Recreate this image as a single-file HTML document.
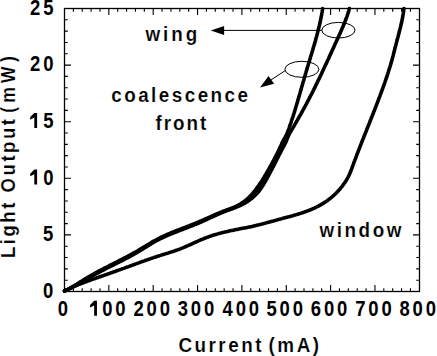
<!DOCTYPE html>
<html><head><meta charset="utf-8"><style>
html,body{margin:0;padding:0;background:#fff;width:437px;height:356px;overflow:hidden}
svg{display:block}
text{font-family:"Liberation Sans",sans-serif;font-weight:bold;font-size:20.5px;fill:#000;stroke:#fff;stroke-width:0.15px}
text.d{stroke:none}
</style></head><body>
<svg width="437" height="356" viewBox="0 0 437 356">
<rect x="0" y="0" width="437" height="356" fill="#fff"/>
<g fill="none" stroke="#000" stroke-linecap="round" stroke-linejoin="round">
<path d="M64.5 291.1L65.4 290.6L66.3 290.2L67.2 289.7L68.1 289.3L69.0 288.8L69.9 288.4L70.8 288.0L71.8 287.5L72.7 287.1L73.6 286.7L74.5 286.3L75.4 285.9L76.3 285.5L77.3 285.1L78.2 284.7L79.1 284.4L80.1 284.0L81.0 283.6L81.9 283.3L82.9 282.9L83.8 282.5L84.7 282.2L85.7 281.8L86.6 281.5L87.5 281.1L88.5 280.8L89.4 280.5L90.4 280.1L91.3 279.8L92.3 279.4L93.2 279.1L94.2 278.8L95.1 278.5L96.1 278.1L97.0 277.8L97.9 277.5L98.9 277.1L99.8 276.8L100.8 276.5L101.7 276.1L102.7 275.8L103.6 275.5L104.6 275.1L105.5 274.8L106.5 274.5L107.4 274.1L108.4 273.8L109.3 273.5L110.3 273.1L111.2 272.8L112.1 272.5L113.1 272.1L114.0 271.8L115.0 271.5L115.9 271.1L116.9 270.8L117.8 270.4L118.8 270.1L119.7 269.8L120.6 269.4L121.6 269.1L122.5 268.7L123.5 268.4L124.4 268.1L125.4 267.7L126.3 267.4L127.2 267.0L128.2 266.7L129.1 266.4L130.1 266.0L131.0 265.7L132.0 265.3L132.9 265.0L133.8 264.6L134.8 264.3L135.7 263.9L136.7 263.6L137.6 263.3L138.6 262.9L139.5 262.6L140.4 262.2L141.4 261.9L142.3 261.5L143.3 261.2L144.2 260.9L145.2 260.5L146.1 260.2L147.1 259.9L148.0 259.5L149.0 259.2L149.9 258.9L150.8 258.6L151.8 258.2L152.7 257.9L153.7 257.6L154.6 257.3L155.6 257.0L156.6 256.6L157.5 256.3L158.5 256.0L159.4 255.7L160.4 255.4L161.3 255.1L162.3 254.8L163.2 254.5L164.2 254.2L165.2 253.9L166.1 253.6L167.1 253.4L168.0 253.1L169.0 252.7L169.9 252.4L170.9 252.1L171.9 251.8L172.8 251.5L173.8 251.2L174.7 250.9L175.7 250.5L176.6 250.2L177.5 249.9L178.5 249.5L179.4 249.2L180.4 248.8L181.3 248.4L182.2 248.1L183.2 247.7L184.1 247.3L185.0 246.9L185.9 246.5L186.8 246.1L187.8 245.7L188.7 245.3L189.6 244.9L190.5 244.5L191.4 244.1L192.4 243.6L193.3 243.2L194.2 242.8L195.1 242.4L196.0 242.0L196.9 241.6L197.9 241.2L198.8 240.7L199.7 240.3L200.6 239.9L201.5 239.5L202.5 239.2L203.4 238.8L204.3 238.4L205.3 238.0L206.2 237.7L207.1 237.3L208.1 237.0L209.0 236.6L210.0 236.3L210.9 236.0L211.8 235.6L212.8 235.3L213.7 235.0L214.7 234.7L215.7 234.5L216.6 234.2L217.6 233.9L218.5 233.6L219.5 233.4L220.5 233.1L221.4 232.9L222.4 232.6L223.4 232.4L224.4 232.1L225.3 231.9L226.3 231.7L227.3 231.5L228.3 231.2L229.3 231.0L230.2 230.8L231.2 230.6L232.2 230.4L233.2 230.2L234.2 230.0L235.2 229.8L236.1 229.6L237.1 229.4L238.1 229.2L239.1 229.0L240.1 228.8L241.1 228.6L242.1 228.4L243.0 228.3L244.0 228.1L245.0 227.9L246.0 227.7L247.0 227.5L248.0 227.3L249.0 227.1L249.9 226.9L250.9 226.7L251.9 226.5L252.9 226.2L253.9 226.0L254.8 225.8L255.8 225.6L256.8 225.3L257.8 225.1L258.7 224.9L259.7 224.6L260.7 224.4L261.6 224.1L262.6 223.9L263.6 223.6L264.5 223.4L265.5 223.1L266.5 222.8L267.4 222.6L268.4 222.3L269.4 222.0L270.3 221.8L271.3 221.5L272.3 221.2L273.2 221.0L274.2 220.7L275.2 220.4L276.1 220.2L277.1 219.9L278.1 219.6L279.0 219.4L280.0 219.1L281.0 218.9L282.0 218.6L282.9 218.3L283.9 218.1L284.9 217.8L285.9 217.6L286.8 217.3L287.8 217.0L288.8 216.8L289.8 216.5L290.7 216.2L291.7 216.0L292.7 215.7L293.6 215.4L294.6 215.1L295.6 214.9L296.5 214.6L297.5 214.3L298.5 214.0L299.4 213.7L300.4 213.4L301.3 213.1L302.3 212.8L303.2 212.5L304.2 212.1L305.1 211.8L306.1 211.5L307.0 211.1L307.9 210.8L308.9 210.4L309.8 210.0L310.7 209.7L311.6 209.3L312.5 208.9L313.4 208.5L314.4 208.1L315.3 207.7L316.1 207.2L317.0 206.8L317.9 206.3L318.8 205.9L319.7 205.4L320.6 204.9L321.4 204.4L322.3 203.9L323.1 203.4L324.0 202.9L324.8 202.3L325.6 201.8L326.5 201.2L327.3 200.6L328.1 200.0L328.9 199.4L329.7 198.8L330.5 198.2L331.3 197.5L332.1 196.9L332.8 196.2L333.6 195.5L334.3 194.8L335.1 194.1L335.8 193.4L336.5 192.7L337.2 192.0L337.9 191.2L338.6 190.5L339.3 189.7L340.0 189.0L340.6 188.2L341.2 187.4L341.9 186.6L342.5 185.8L343.1 185.0L343.7 184.2L344.3 183.4L344.8 182.6L345.4 181.8L345.9 181.0L346.4 180.1L346.9 179.3L347.4 178.4L347.9 177.5L348.3 176.7L348.8 175.8L349.2 174.9L349.6 174.0L350.0 173.0L350.4 172.1L350.7 171.2L351.1 170.3L351.5 169.3L351.8 168.4L352.2 167.5L352.5 166.5L352.8 165.6L353.2 164.6L353.5 163.7L353.9 162.7L354.2 161.8L354.6 160.8L354.9 159.9L355.3 159.0L355.7 158.0L356.0 157.1L356.4 156.1L356.7 155.2L357.1 154.3L357.4 153.3L357.8 152.4L358.2 151.5L358.5 150.5L358.9 149.6L359.3 148.6L359.6 147.7L360.0 146.8L360.3 145.8L360.7 144.9L361.1 144.0L361.4 143.0L361.8 142.1L362.2 141.2L362.5 140.2L362.9 139.3L363.3 138.4L363.7 137.4L364.0 136.5L364.4 135.6L364.8 134.6L365.1 133.7L365.5 132.8L365.9 131.8L366.3 130.9L366.6 130.0L367.0 129.0L367.4 128.1L367.7 127.2L368.1 126.2L368.5 125.3L368.9 124.4L369.2 123.4L369.6 122.5L370.0 121.6L370.3 120.6L370.7 119.7L371.1 118.8L371.4 117.8L371.8 116.9L372.2 116.0L372.6 115.0L372.9 114.1L373.3 113.2L373.7 112.2L374.0 111.3L374.4 110.4L374.7 109.4L375.1 108.5L375.5 107.6L375.8 106.6L376.2 105.7L376.6 104.8L376.9 103.8L377.3 102.9L377.6 101.9L378.0 101.0L378.4 100.1L378.7 99.1L379.1 98.2L379.4 97.3L379.8 96.3L380.1 95.4L380.5 94.4L380.8 93.5L381.2 92.6L381.5 91.6L381.9 90.7L382.2 89.7L382.5 88.8L382.9 87.9L383.2 86.9L383.6 86.0L383.9 85.0L384.2 84.1L384.6 83.1L384.9 82.2L385.2 81.2L385.6 80.3L385.9 79.4L386.2 78.4L386.5 77.5L386.9 76.5L387.2 75.6L387.5 74.6L387.8 73.7L388.1 72.7L388.4 71.8L388.7 70.8L389.0 69.8L389.3 68.9L389.6 67.9L389.9 67.0L390.2 66.0L390.5 65.1L390.8 64.1L391.1 63.1L391.3 62.2L391.6 61.2L391.9 60.2L392.2 59.3L392.4 58.3L392.7 57.3L392.9 56.4L393.2 55.4L393.4 54.4L393.7 53.5L393.9 52.5L394.2 51.5L394.4 50.5L394.7 49.6L394.9 48.6L395.2 47.6L395.4 46.6L395.7 45.7L395.9 44.7L396.2 43.7L396.4 42.8L396.7 41.8L396.9 40.8L397.2 39.8L397.4 38.9L397.7 37.9L398.0 36.9L398.2 36.0L398.5 35.0L398.7 34.0L399.0 33.1L399.2 32.1L399.5 31.1L399.7 30.1L400.0 29.2L400.2 28.2L400.5 27.2L400.7 26.3L400.9 25.3L401.1 24.3L401.4 23.3L401.6 22.4L401.8 21.4L402.0 20.4L402.2 19.4L402.4 18.4L402.6 17.4L402.8 16.5L402.9 15.5L403.1 14.5L403.3 13.5L403.4 12.5L403.6 11.5L403.7 10.5L403.8 9.5L403.9 8.5" stroke-width="3.6"/>
<path d="M64.5 291.0L65.4 290.6L66.3 290.1L67.2 289.7L68.1 289.2L69.0 288.7L69.9 288.2L70.7 287.7L71.6 287.2L72.5 286.7L73.3 286.2L74.2 285.7L75.1 285.2L75.9 284.7L76.8 284.2L77.6 283.6L78.5 283.1L79.3 282.6L80.2 282.0L81.0 281.5L81.9 281.0L82.7 280.4L83.6 279.9L84.4 279.4L85.3 278.8L86.1 278.3L87.0 277.8L87.8 277.3L88.7 276.8L89.6 276.2L90.4 275.7L91.3 275.2L92.2 274.7L93.0 274.3L93.9 273.8L94.8 273.3L95.7 272.8L96.6 272.3L97.4 271.9L98.3 271.4L99.2 270.9L100.1 270.4L101.0 270.0L101.9 269.5L102.8 269.1L103.7 268.6L104.5 268.1L105.4 267.7L106.3 267.2L107.2 266.8L108.1 266.3L109.0 265.9L109.9 265.4L110.8 264.9L111.7 264.5L112.6 264.0L113.5 263.6L114.4 263.1L115.3 262.7L116.2 262.2L117.1 261.8L118.0 261.3L118.8 260.9L119.7 260.4L120.6 260.0L121.5 259.5L122.4 259.1L123.3 258.6L124.2 258.1L125.1 257.7L126.0 257.2L126.9 256.7L127.7 256.3L128.6 255.8L129.5 255.3L130.4 254.9L131.3 254.4L132.2 253.9L133.0 253.4L133.9 252.9L134.8 252.4L135.6 252.0L136.5 251.5L137.4 251.0L138.2 250.5L139.1 249.9L140.0 249.4L140.8 248.9L141.7 248.4L142.5 247.9L143.4 247.4L144.2 246.8L145.1 246.3L146.0 245.8L146.8 245.2L147.7 244.7L148.5 244.2L149.4 243.7L150.2 243.2L151.1 242.7L152.0 242.1L152.8 241.6L153.7 241.1L154.6 240.7L155.5 240.2L156.4 239.7L157.3 239.2L158.1 238.8L159.0 238.3L159.9 237.9L160.8 237.4L161.7 237.0L162.6 236.6L163.6 236.1L164.5 235.7L165.4 235.3L166.3 234.9L167.2 234.5L168.1 234.1L169.1 233.7L170.0 233.3L170.9 232.9L171.8 232.5L172.8 232.1L173.7 231.8L174.6 231.4L175.6 231.0L176.5 230.6L177.4 230.3L178.4 229.9L179.3 229.5L180.2 229.2L181.2 228.8L182.1 228.4L183.1 228.1L184.0 227.7L184.9 227.4L185.9 227.0L186.8 226.6L187.7 226.3L188.7 225.9L189.6 225.6L190.5 225.2L191.5 224.8L192.4 224.5L193.3 224.1L194.3 223.7L195.2 223.3L196.1 223.0L197.1 222.6L198.0 222.2L198.9 221.8L199.8 221.4L200.7 221.0L201.7 220.6L202.6 220.2L203.5 219.8L204.4 219.4L205.3 219.0L206.2 218.6L207.1 218.2L208.0 217.8L209.0 217.4L209.9 217.0L210.8 216.6L211.7 216.2L212.6 215.8L213.5 215.4L214.4 214.9L215.4 214.5L216.3 214.1L217.2 213.7L218.1 213.3L219.1 212.9L220.0 212.6L220.9 212.2L221.9 211.8L222.8 211.4L223.8 211.0L224.7 210.7L225.7 210.3L226.7 210.0L227.6 209.6L228.6 209.3L229.5 208.9L230.5 208.6L231.5 208.2L232.4 207.8L233.3 207.5L234.3 207.1L235.2 206.7L236.1 206.3L237.0 205.8L237.9 205.4L238.8 204.9L239.6 204.5L240.5 204.0L241.3 203.4L242.1 202.9L242.9 202.4L243.7 201.8L244.4 201.2L245.2 200.6L245.9 200.0L246.7 199.4L247.4 198.8L248.1 198.1L248.8 197.5L249.5 196.8L250.1 196.1L250.8 195.4L251.5 194.7L252.1 194.0L252.7 193.3L253.3 192.5L254.0 191.8L254.6 191.0L255.2 190.3L255.8 189.5L256.4 188.7L256.9 187.9L257.5 187.1L258.1 186.3L258.7 185.5L259.2 184.7L259.8 183.9L260.4 183.1L260.9 182.3L261.5 181.4L262.0 180.6L262.5 179.7L263.1 178.9L263.6 178.0L264.1 177.2L264.6 176.3L265.1 175.4L265.7 174.6L266.2 173.7L266.7 172.8L267.2 172.0L267.7 171.1L268.2 170.2L268.7 169.3L269.1 168.5L269.6 167.6L270.1 166.7L270.6 165.8L271.1 164.9L271.6 164.1L272.0 163.2L272.5 162.3L273.0 161.4L273.5 160.5L273.9 159.7L274.4 158.8L274.9 157.9L275.3 157.0L275.8 156.1L276.2 155.2L276.7 154.3L277.1 153.5L277.6 152.6L278.0 151.7L278.4 150.8L278.9 149.9L279.3 149.0L279.7 148.1L280.1 147.2L280.6 146.3L281.0 145.4L281.4 144.5L281.8 143.5L282.2 142.6L282.6 141.7L283.1 140.9L283.6 140.0L284.1 139.1L284.6 138.2L285.1 137.4L285.5 136.5L286.0 135.6L286.5 134.7L286.9 133.8L287.3 132.9L287.6 131.9L288.0 131.0L288.3 130.1L288.7 129.1L289.0 128.2L289.3 127.2L289.7 126.3L290.0 125.3L290.3 124.4L290.7 123.4L291.0 122.5L291.3 121.5L291.6 120.6L291.9 119.6L292.2 118.7L292.6 117.7L292.9 116.8L293.2 115.8L293.5 114.9L293.8 113.9L294.1 113.0L294.4 112.0L294.7 111.1L295.0 110.1L295.3 109.1L295.6 108.2L295.8 107.2L296.1 106.3L296.4 105.3L296.7 104.3L297.0 103.4L297.3 102.4L297.6 101.4L297.8 100.5L298.1 99.5L298.4 98.5L298.7 97.6L299.0 96.6L299.2 95.6L299.5 94.7L299.8 93.7L300.1 92.8L300.4 91.8L300.6 90.8L300.9 89.9L301.2 88.9L301.5 87.9L301.7 87.0L302.0 86.0L302.3 85.0L302.6 84.1L302.8 83.1L303.1 82.1L303.4 81.2L303.7 80.2L304.0 79.2L304.2 78.3L304.5 77.3L304.8 76.3L305.1 75.4L305.4 74.4L305.6 73.4L305.9 72.5L306.2 71.5L306.5 70.5L306.8 69.6L307.1 68.6L307.3 67.7L307.6 66.7L307.9 65.7L308.2 64.8L308.5 63.8L308.8 62.8L309.1 61.9L309.4 60.9L309.7 60.0L310.0 59.0L310.3 58.0L310.5 57.1L310.8 56.1L311.1 55.2L311.4 54.2L311.7 53.3L312.0 52.3L312.3 51.3L312.6 50.4L312.9 49.4L313.1 48.5L313.4 47.5L313.7 46.5L314.0 45.6L314.3 44.6L314.6 43.6L314.8 42.7L315.1 41.7L315.4 40.8L315.7 39.8L315.9 38.8L316.2 37.9L316.5 36.9L316.7 35.9L317.0 35.0L317.2 34.0L317.5 33.0L317.7 32.1L318.0 31.1L318.2 30.1L318.5 29.1L318.7 28.2L318.9 27.2L319.2 26.2L319.4 25.3L319.6 24.3L319.9 23.3L320.1 22.3L320.3 21.3L320.5 20.4L320.7 19.4L320.9 18.4L321.1 17.4L321.3 16.4L321.5 15.4L321.7 14.4L321.8 13.5L322.0 12.5L322.2 11.5L322.3 10.5L322.5 9.5L322.6 8.5" stroke-width="3.6"/>
<path d="M64.5 291.0L65.4 290.6L66.4 290.2L67.3 289.8L68.2 289.4L69.1 288.9L70.0 288.5L70.9 288.0L71.8 287.6L72.7 287.1L73.6 286.7L74.5 286.2L75.3 285.7L76.2 285.2L77.1 284.7L78.0 284.2L78.8 283.7L79.7 283.2L80.6 282.7L81.4 282.2L82.3 281.7L83.2 281.2L84.0 280.7L84.9 280.2L85.8 279.7L86.6 279.2L87.5 278.7L88.4 278.2L89.3 277.7L90.1 277.2L91.0 276.7L91.9 276.2L92.7 275.8L93.6 275.3L94.5 274.8L95.3 274.3L96.2 273.8L97.1 273.3L98.0 272.9L98.9 272.4L99.7 271.9L100.6 271.5L101.5 271.0L102.4 270.5L103.3 270.1L104.2 269.6L105.0 269.1L105.9 268.7L106.8 268.2L107.7 267.8L108.6 267.3L109.5 266.9L110.4 266.4L111.3 266.0L112.2 265.5L113.1 265.1L114.0 264.6L114.9 264.2L115.8 263.7L116.7 263.3L117.6 262.8L118.5 262.4L119.4 262.0L120.3 261.5L121.2 261.0L122.1 260.6L123.0 260.1L123.9 259.7L124.7 259.2L125.6 258.8L126.5 258.3L127.4 257.8L128.3 257.4L129.2 256.9L130.1 256.4L131.0 255.9L131.8 255.5L132.7 255.0L133.6 254.5L134.5 254.0L135.4 253.5L136.2 253.0L137.1 252.5L138.0 252.0L138.8 251.5L139.7 251.0L140.5 250.4L141.4 249.9L142.3 249.4L143.1 248.8L144.0 248.3L144.8 247.8L145.7 247.2L146.5 246.7L147.3 246.2L148.2 245.6L149.0 245.1L149.9 244.6L150.7 244.0L151.6 243.5L152.4 243.0L153.3 242.5L154.2 242.0L155.0 241.5L155.9 241.0L156.8 240.5L157.6 240.1L158.5 239.6L159.4 239.2L160.3 238.7L161.2 238.3L162.1 237.9L163.0 237.4L163.9 237.0L164.8 236.6L165.7 236.2L166.7 235.8L167.6 235.4L168.5 235.0L169.4 234.6L170.3 234.2L171.3 233.9L172.2 233.5L173.1 233.1L174.1 232.8L175.0 232.4L175.9 232.0L176.9 231.7L177.8 231.3L178.8 230.9L179.7 230.6L180.6 230.2L181.6 229.8L182.5 229.5L183.4 229.1L184.4 228.8L185.3 228.4L186.3 228.0L187.2 227.7L188.1 227.3L189.1 226.9L190.0 226.6L190.9 226.2L191.9 225.8L192.8 225.5L193.7 225.1L194.7 224.7L195.6 224.3L196.5 224.0L197.4 223.6L198.4 223.2L199.3 222.8L200.2 222.4L201.1 222.0L202.0 221.6L203.0 221.2L203.9 220.8L204.8 220.3L205.7 219.9L206.6 219.5L207.5 219.1L208.4 218.7L209.3 218.3L210.2 217.8L211.1 217.4L212.1 217.0L213.0 216.6L213.9 216.2L214.8 215.8L215.7 215.4L216.6 214.9L217.5 214.5L218.5 214.1L219.4 213.7L220.3 213.3L221.2 212.9L222.1 212.6L223.1 212.2L224.0 211.8L224.9 211.4L225.9 211.1L226.8 210.7L227.8 210.4L228.7 210.0L229.7 209.7L230.6 209.3L231.6 209.0L232.5 208.6L233.5 208.3L234.4 207.9L235.3 207.5L236.3 207.2L237.2 206.8L238.2 206.4L239.1 206.0L240.0 205.6L240.9 205.2L241.8 204.8L242.7 204.3L243.6 203.8L244.5 203.4L245.4 202.8L246.3 202.3L247.1 201.8L247.9 201.2L248.8 200.6L249.6 200.0L250.4 199.4L251.2 198.8L252.0 198.2L252.7 197.5L253.5 196.8L254.3 196.1L255.0 195.4L255.7 194.7L256.4 194.0L257.1 193.2L257.8 192.5L258.5 191.7L259.1 190.9L259.7 190.1L260.4 189.2L261.0 188.4L261.5 187.6L262.1 186.7L262.7 185.9L263.2 185.0L263.7 184.1L264.3 183.2L264.8 182.3L265.3 181.5L265.8 180.6L266.3 179.7L266.8 178.8L267.3 177.9L267.8 177.0L268.3 176.1L268.7 175.2L269.2 174.3L269.7 173.4L270.2 172.5L270.6 171.6L271.1 170.7L271.6 169.8L272.1 168.9L272.5 168.0L273.0 167.1L273.5 166.3L273.9 165.4L274.4 164.5L274.8 163.6L275.3 162.7L275.7 161.8L276.2 160.9L276.6 160.0L277.1 159.1L277.5 158.2L278.0 157.3L278.4 156.4L278.9 155.5L279.3 154.6L279.8 153.8L280.3 152.9L280.7 152.0L281.2 151.1L281.6 150.2L282.1 149.3L282.5 148.4L283.0 147.6L283.5 146.7L283.9 145.8L284.4 144.9L284.9 144.0L285.3 143.2L285.8 142.3L286.2 141.3L286.6 140.4L286.9 139.5L287.3 138.6L287.7 137.6L288.1 136.7L288.5 135.8L288.9 134.9L289.3 133.9L289.8 133.1L290.3 132.2L290.8 131.3L291.3 130.5L291.8 129.6L292.4 128.7L292.9 127.9L293.4 127.0L293.9 126.2L294.4 125.3L294.9 124.4L295.4 123.6L295.9 122.7L296.4 121.8L296.9 121.0L297.4 120.1L297.9 119.2L298.4 118.3L298.9 117.5L299.4 116.6L299.9 115.7L300.4 114.9L300.9 114.0L301.4 113.1L301.9 112.2L302.3 111.4L302.8 110.5L303.3 109.6L303.8 108.7L304.3 107.8L304.8 107.0L305.2 106.1L305.7 105.2L306.2 104.3L306.6 103.4L307.1 102.5L307.6 101.7L308.0 100.8L308.5 99.9L309.0 99.0L309.4 98.1L309.9 97.2L310.3 96.3L310.8 95.4L311.3 94.5L311.7 93.7L312.2 92.8L312.6 91.9L313.1 91.0L313.5 90.1L314.0 89.2L314.4 88.3L314.9 87.4L315.3 86.5L315.7 85.6L316.2 84.7L316.6 83.8L317.1 82.9L317.5 82.0L317.9 81.1L318.4 80.2L318.8 79.3L319.2 78.4L319.7 77.5L320.1 76.6L320.5 75.7L321.0 74.8L321.4 73.9L321.8 73.0L322.2 72.0L322.7 71.1L323.1 70.2L323.5 69.3L323.9 68.4L324.4 67.5L324.8 66.6L325.2 65.7L325.6 64.8L326.1 63.9L326.5 63.0L326.9 62.1L327.3 61.2L327.7 60.2L328.2 59.3L328.6 58.4L329.0 57.5L329.4 56.6L329.8 55.7L330.2 54.8L330.7 53.9L331.1 53.0L331.5 52.1L331.9 51.1L332.3 50.2L332.7 49.3L333.2 48.4L333.6 47.5L334.0 46.6L334.4 45.7L334.8 44.8L335.2 43.8L335.6 42.9L336.1 42.0L336.5 41.1L336.9 40.2L337.3 39.3L337.7 38.4L338.1 37.5L338.6 36.5L339.0 35.6L339.4 34.7L339.8 33.8L340.2 32.9L340.6 32.0L341.0 31.1L341.4 30.1L341.8 29.2L342.2 28.3L342.6 27.4L343.0 26.5L343.4 25.5L343.8 24.6L344.2 23.7L344.5 22.8L344.9 21.8L345.3 20.9L345.6 20.0L346.0 19.0L346.3 18.1L346.7 17.1L347.0 16.2L347.3 15.2L347.7 14.3L348.0 13.3L348.3 12.4L348.6 11.4L348.9 10.4L349.1 9.5L349.4 8.5" stroke-width="3.6"/>
<path d="M64.5 291.1L65.4 290.6L66.3 290.1L67.2 289.7L68.1 289.2L69.0 288.7L69.9 288.2L70.7 287.7L71.6 287.2L72.5 286.7L73.4 286.3L74.3 285.8L75.1 285.3L76.0 284.8L76.9 284.3L77.8 283.8L78.6 283.3L79.5 282.8L80.4 282.3L81.3 281.8L82.1 281.3L83.0 280.8L83.9 280.3L84.7 279.8L85.6 279.3L86.5 278.8L87.4 278.3L88.2 277.8L89.1 277.3L90.0 276.8L90.9 276.3L91.7 275.8L92.6 275.4L93.5 274.9L94.4 274.4L95.2 273.9L96.1 273.4L97.0 272.9L97.9 272.4L98.7 271.9L99.6 271.5L100.5 271.0L101.4 270.5L102.3 270.0L103.1 269.5L104.0 269.1L104.9 268.6L105.8 268.1L106.7 267.7L107.6 267.2L108.5 266.7L109.4 266.3L110.2 265.8L111.1 265.3L112.0 264.9L112.9 264.4L113.8 263.9L114.7 263.5L115.6 263.0L116.5 262.5L117.4 262.1L118.3 261.6L119.2 261.1L120.0 260.7L120.9 260.2L121.8 259.8L122.7 259.3L123.6 258.8L124.5 258.4L125.4 257.9L126.3 257.4L127.2 257.0L128.1 256.5L128.9 256.0L129.8 255.5L130.7 255.1L131.6 254.6L132.5 254.1L133.4 253.6L134.3 253.2L135.1 252.7L136.0 252.2L136.9 251.7L137.8 251.2L138.7 250.7L139.5 250.2L140.4 249.8L141.3 249.3L142.2 248.8L143.0 248.3L143.9 247.8L144.8 247.3L145.6 246.8L146.5 246.2L147.4 245.7L148.2 245.2L149.1 244.7L150.0 244.2L150.9 243.7L151.7 243.2L152.6 242.7L153.5 242.2L154.3 241.7L155.2 241.3L156.1 240.8L157.0 240.3L157.8 239.8L158.7 239.3L159.6 238.8L160.5 238.4L161.4 237.9L162.3 237.4L163.2 237.0L164.1 236.5L164.9 236.1L165.8 235.6L166.8 235.2L167.7 234.8L168.6 234.3L169.5 233.9L170.4 233.5L171.3 233.1L172.2 232.7L173.2 232.3L174.1 231.9L175.0 231.6L176.0 231.2L176.9 230.8L177.8 230.5L178.8 230.1L179.7 229.7L180.7 229.4L181.6 229.0L182.5 228.7L183.5 228.3L184.4 228.0L185.4 227.6L186.3 227.3L187.3 226.9L188.2 226.6L189.2 226.3L190.1 225.9L191.1 225.5L192.0 225.2L193.0 224.8L193.9 224.5L194.8 224.1L195.8 223.8L196.7 223.4L197.6 223.0L198.6 222.6L199.5 222.2L200.4 221.8L201.4 221.4L202.3 221.0L203.2 220.6L204.1 220.2L205.0 219.8L205.9 219.4L206.8 219.0L207.7 218.5L208.7 218.1L209.6 217.7L210.5 217.3L211.4 216.9L212.3 216.4L213.2 216.0L214.1 215.6L215.0 215.2L216.0 214.8L216.9 214.4L217.8 214.0L218.7 213.6L219.7 213.2L220.6 212.8L221.5 212.4L222.5 212.1L223.4 211.7L224.4 211.3L225.3 211.0L226.2 210.6L227.2 210.2L228.1 209.9L229.1 209.5L230.0 209.1L230.9 208.7L231.9 208.3L232.8 208.0L233.7 207.6L234.7 207.2L235.6 206.8L236.5 206.4L237.4 205.9L238.3 205.5L239.2 205.1L240.1 204.6L241.0 204.2L241.9 203.7L242.8 203.2L243.6 202.7L244.5 202.2L245.3 201.7L246.1 201.1L246.9 200.6L247.7 200.0L248.5 199.4L249.3 198.8L250.0 198.1L250.8 197.5L251.5 196.8L252.2 196.1L253.0 195.5L253.7 194.7L254.3 194.0L255.0 193.3L255.7 192.5L256.3 191.8L257.0 191.0L257.6 190.2L258.2 189.4L258.8 188.6L259.4 187.8L260.0 187.0L260.5 186.2L261.1 185.3L261.7 184.5L262.2 183.6L262.8 182.8L263.3 181.9L263.8 181.0L264.3 180.2L264.8 179.3L265.3 178.4L265.8 177.5L266.3 176.6L266.8 175.7L267.3 174.8L267.8 173.9L268.2 173.0L268.7 172.1L269.2 171.2L269.7 170.3L270.1 169.4L270.6 168.5L271.0 167.6L271.5 166.7L272.0 165.8L272.4 164.9L272.9 164.0L273.3 163.1L273.8 162.2L274.2 161.3L274.7 160.4L275.2 159.6L275.6 158.7L276.1 157.8L276.5 156.9L277.0 156.0L277.4 155.1L277.9 154.2L278.4 153.3L278.8 152.5L279.3 151.6L279.7 150.7L280.2 149.8L280.7 148.9L281.1 148.0L281.6 147.1L282.1 146.3L282.6 145.4L283.0 144.5L283.5 143.6L284.0 142.7L284.5 141.8L284.9 140.9L285.4 140.0" stroke-width="3.4"/>
</g>
<path d="M73.37 291.5V288.20M73.37 8.5V11.80M82.24 291.5V288.20M82.24 8.5V11.80M91.11 291.5V288.20M91.11 8.5V11.80M99.98 291.5V288.20M99.98 8.5V11.80M108.85 291.5V285.00M108.85 8.5V15.00M117.72 291.5V288.20M117.72 8.5V11.80M126.59 291.5V288.20M126.59 8.5V11.80M135.46 291.5V288.20M135.46 8.5V11.80M144.33 291.5V288.20M144.33 8.5V11.80M153.20 291.5V285.00M153.20 8.5V15.00M162.07 291.5V288.20M162.07 8.5V11.80M170.94 291.5V288.20M170.94 8.5V11.80M179.81 291.5V288.20M179.81 8.5V11.80M188.68 291.5V288.20M188.68 8.5V11.80M197.55 291.5V285.00M197.55 8.5V15.00M206.42 291.5V288.20M206.42 8.5V11.80M215.29 291.5V288.20M215.29 8.5V11.80M224.16 291.5V288.20M224.16 8.5V11.80M233.03 291.5V288.20M233.03 8.5V11.80M241.90 291.5V285.00M241.90 8.5V15.00M250.77 291.5V288.20M250.77 8.5V11.80M259.64 291.5V288.20M259.64 8.5V11.80M268.51 291.5V288.20M268.51 8.5V11.80M277.38 291.5V288.20M277.38 8.5V11.80M286.25 291.5V285.00M286.25 8.5V15.00M295.12 291.5V288.20M295.12 8.5V11.80M303.99 291.5V288.20M303.99 8.5V11.80M312.86 291.5V288.20M312.86 8.5V11.80M321.73 291.5V288.20M321.73 8.5V11.80M330.60 291.5V285.00M330.60 8.5V15.00M339.47 291.5V288.20M339.47 8.5V11.80M348.34 291.5V288.20M348.34 8.5V11.80M357.21 291.5V288.20M357.21 8.5V11.80M366.08 291.5V288.20M366.08 8.5V11.80M374.95 291.5V285.00M374.95 8.5V15.00M383.82 291.5V288.20M383.82 8.5V11.80M392.69 291.5V288.20M392.69 8.5V11.80M401.56 291.5V288.20M401.56 8.5V11.80M410.43 291.5V288.20M410.43 8.5V11.80M64.5 280.18H67.80M419.5 280.18H416.20M64.5 268.86H67.80M419.5 268.86H416.20M64.5 257.54H67.80M419.5 257.54H416.20M64.5 246.22H67.80M419.5 246.22H416.20M64.5 234.90H71.00M419.5 234.90H413.00M64.5 223.58H67.80M419.5 223.58H416.20M64.5 212.26H67.80M419.5 212.26H416.20M64.5 200.94H67.80M419.5 200.94H416.20M64.5 189.62H67.80M419.5 189.62H416.20M64.5 178.30H71.00M419.5 178.30H413.00M64.5 166.98H67.80M419.5 166.98H416.20M64.5 155.66H67.80M419.5 155.66H416.20M64.5 144.34H67.80M419.5 144.34H416.20M64.5 133.02H67.80M419.5 133.02H416.20M64.5 121.70H71.00M419.5 121.70H413.00M64.5 110.38H67.80M419.5 110.38H416.20M64.5 99.06H67.80M419.5 99.06H416.20M64.5 87.74H67.80M419.5 87.74H416.20M64.5 76.42H67.80M419.5 76.42H416.20M64.5 65.10H71.00M419.5 65.10H413.00M64.5 53.78H67.80M419.5 53.78H416.20M64.5 42.46H67.80M419.5 42.46H416.20M64.5 31.14H67.80M419.5 31.14H416.20M64.5 19.82H67.80M419.5 19.82H416.20" stroke="#000" stroke-width="1.1" fill="none"/>
<rect x="64.5" y="8.5" width="355" height="283" fill="none" stroke="#000" stroke-width="1.3"/>
<g fill="none" stroke="#000" stroke-width="1">
<ellipse cx="338.4" cy="30.2" rx="16.6" ry="7.8"/>
<ellipse cx="301.9" cy="69.3" rx="17" ry="8"/>
<path d="M321.8 30.4H222"/>
<path d="M285.2 70.6L271 80"/>
</g>
<path d="M210.7 30.4L224.1 26V34.9Z" fill="#000"/>
<path d="M260 87.5L268.5 75.9L274.2 83.7Z" fill="#000"/>
<text class="d" transform="translate(43.10 297.80) scale(0.84 1)" style="letter-spacing:3.400px;font-size:22px">0</text><text class="d" transform="translate(43.10 241.20) scale(0.84 1)" style="letter-spacing:3.400px;font-size:22px">5</text><text class="d" transform="translate(30.10 184.60) scale(0.84 1)" style="letter-spacing:3.400px;font-size:22px"><tspan style="fill:none">1</tspan>0</text><path d="M34.30 169.60H37.10V184.60H34.30V174.20L30.20 176.30V173.70Z" fill="#000"/><text class="d" transform="translate(30.10 128.00) scale(0.84 1)" style="letter-spacing:3.400px;font-size:22px"><tspan style="fill:none">1</tspan>5</text><path d="M34.30 113.00H37.10V128.00H34.30V117.60L30.20 119.70V117.10Z" fill="#000"/><text class="d" transform="translate(30.10 71.40) scale(0.84 1)" style="letter-spacing:3.400px;font-size:22px">20</text><text class="d" transform="translate(30.10 14.80) scale(0.84 1)" style="letter-spacing:3.400px;font-size:22px">25</text>
<text class="d" transform="translate(57.70 315.80) scale(0.84 1)" style="letter-spacing:3.400px;font-size:22px">0</text><text class="d" transform="translate(89.05 315.80) scale(0.84 1)" style="letter-spacing:3.400px;font-size:22px"><tspan style="fill:none">1</tspan>00</text><path d="M94.15 300.80H96.95V315.80H94.15V305.40L90.05 307.50V304.90Z" fill="#000"/><text class="d" transform="translate(133.40 315.80) scale(0.84 1)" style="letter-spacing:3.400px;font-size:22px">200</text><text class="d" transform="translate(177.75 315.80) scale(0.84 1)" style="letter-spacing:3.400px;font-size:22px">300</text><text class="d" transform="translate(222.60 315.80) scale(0.84 1)" style="letter-spacing:3.400px;font-size:22px">400</text><text class="d" transform="translate(266.45 315.80) scale(0.84 1)" style="letter-spacing:3.400px;font-size:22px">500</text><text class="d" transform="translate(310.80 315.80) scale(0.84 1)" style="letter-spacing:3.400px;font-size:22px">600</text><text class="d" transform="translate(355.15 315.80) scale(0.84 1)" style="letter-spacing:3.400px;font-size:22px">700</text><text class="d" transform="translate(399.50 315.80) scale(0.84 1)" style="letter-spacing:3.400px;font-size:22px">800</text>
<text transform="translate(145.40 40.60) scale(0.92 1)" style="letter-spacing:3.275px">wing</text><text transform="translate(111.20 101.80) scale(0.92 1)" style="letter-spacing:2.686px">coalescence</text><text transform="translate(155.50 129.80) scale(0.92 1)" style="letter-spacing:2.164px">front</text><text transform="translate(319.40 237.00) scale(0.92 1)" style="letter-spacing:2.814px">window</text><text transform="translate(178.40 351.70) scale(0.92 1)" style="letter-spacing:2.712px">Current</text><text transform="translate(268.50 351.90) scale(0.92 1)" style="letter-spacing:2.767px">(mA)</text><text transform="translate(14.90 258.00) rotate(-90) scale(0.95 1)" style="letter-spacing:2.675px;font-size:19.5px">Light Output</text><text transform="translate(15.10 112.80) rotate(-90) scale(0.9 1)" style="letter-spacing:4.700px;font-size:19.5px">(mW)</text>
</svg>
</body></html>
